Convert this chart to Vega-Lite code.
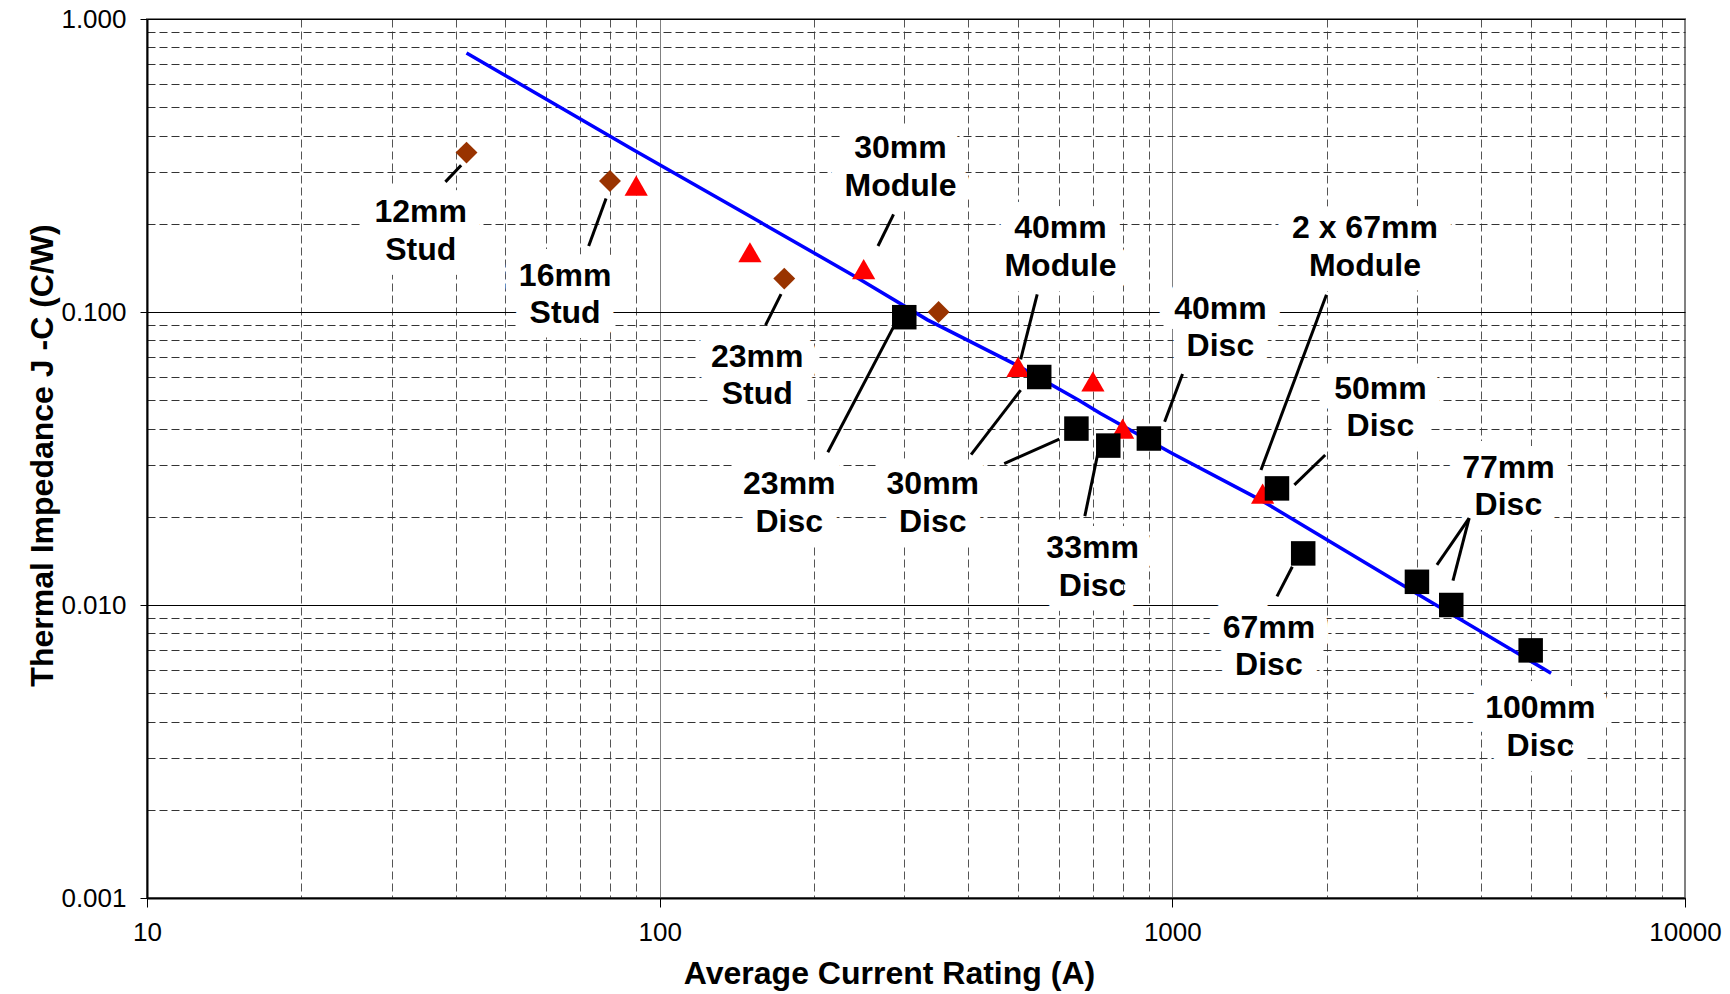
{
  "$schema": "https://vega.github.io/schema/vega-lite/v6.json",
  "width": 1538,
  "height": 879,
  "autosize": {"type": "none"},
  "padding": {"left": 147, "top": 19, "right": 45, "bottom": 96},
  "background": "white",
  "config": {
    "view": {"stroke": "#808080", "strokeWidth": 2},
    "font": "Liberation Sans, Arial, sans-serif"
  },
  "datasets": {
    "trend": [
      {"x": 42, "y": 0.766}, {"x": 89, "y": 0.357}, {"x": 148, "y": 0.215},
      {"x": 241, "y": 0.132}, {"x": 333, "y": 0.094}, {"x": 496, "y": 0.066},
      {"x": 657, "y": 0.05}, {"x": 723, "y": 0.0451}, {"x": 1000, "y": 0.0329},
      {"x": 1488, "y": 0.0228}, {"x": 3064, "y": 0.0107}, {"x": 5480, "y": 0.00585}
    ],
    "devices": [
      {"x": 42, "y": 0.35, "type": "Stud"},
      {"x": 80, "y": 0.28, "type": "Stud"},
      {"x": 175, "y": 0.13, "type": "Stud"},
      {"x": 350, "y": 0.1, "type": "Stud"},
      {"x": 90, "y": 0.27, "type": "Module"},
      {"x": 150, "y": 0.16, "type": "Module"},
      {"x": 250, "y": 0.14, "type": "Module"},
      {"x": 500, "y": 0.065, "type": "Module"},
      {"x": 700, "y": 0.058, "type": "Module"},
      {"x": 800, "y": 0.04, "type": "Module"},
      {"x": 1500, "y": 0.024, "type": "Module"},
      {"x": 300, "y": 0.096, "type": "Disc"},
      {"x": 550, "y": 0.06, "type": "Disc"},
      {"x": 650, "y": 0.04, "type": "Disc"},
      {"x": 750, "y": 0.035, "type": "Disc"},
      {"x": 900, "y": 0.037, "type": "Disc"},
      {"x": 1600, "y": 0.025, "type": "Disc"},
      {"x": 1800, "y": 0.015, "type": "Disc"},
      {"x": 3000, "y": 0.012, "type": "Disc"},
      {"x": 3500, "y": 0.01, "type": "Disc"},
      {"x": 5000, "y": 0.007, "type": "Disc"}
    ],
    "labels": [
      {"x": 34.2, "y": 0.189, "label": "12mm\nStud"},
      {"x": 65.4, "y": 0.1146, "label": "16mm\nStud"},
      {"x": 295, "y": 0.313, "label": "30mm\nModule"},
      {"x": 155, "y": 0.0608, "label": "23mm\nStud"},
      {"x": 605, "y": 0.1664, "label": "40mm\nModule"},
      {"x": 2375, "y": 0.1664, "label": "2 x 67mm\nModule"},
      {"x": 1241, "y": 0.0884, "label": "40mm\nDisc"},
      {"x": 2546, "y": 0.0473, "label": "50mm\nDisc"},
      {"x": 179, "y": 0.0223, "label": "23mm\nDisc"},
      {"x": 341, "y": 0.0223, "label": "30mm\nDisc"},
      {"x": 699, "y": 0.01347, "label": "33mm\nDisc"},
      {"x": 4524, "y": 0.02536, "label": "77mm\nDisc"},
      {"x": 1543, "y": 0.00722, "label": "67mm\nDisc"},
      {"x": 5223, "y": 0.003834, "label": "100mm\nDisc"}
    ],
    "leaders": [
      {"x": 38.2, "y": 0.278, "x2": 41.0, "y2": 0.317},
      {"x": 72.7, "y": 0.168, "x2": 78.6, "y2": 0.244},
      {"x": 160.9, "y": 0.0902, "x2": 172.5, "y2": 0.1151},
      {"x": 266.6, "y": 0.168, "x2": 285.9, "y2": 0.2153},
      {"x": 212.8, "y": 0.0332, "x2": 285.9, "y2": 0.089},
      {"x": 545, "y": 0.1148, "x2": 506, "y2": 0.0689},
      {"x": 405, "y": 0.0326, "x2": 506, "y2": 0.0541},
      {"x": 470, "y": 0.0304, "x2": 602, "y2": 0.0368},
      {"x": 675, "y": 0.0201, "x2": 720, "y2": 0.0347},
      {"x": 1047, "y": 0.0614, "x2": 966, "y2": 0.0422},
      {"x": 1998, "y": 0.1146, "x2": 1489, "y2": 0.0289},
      {"x": 1987, "y": 0.0325, "x2": 1730, "y2": 0.0257},
      {"x": 1714, "y": 0.0135, "x2": 1600, "y2": 0.0107},
      {"x": 3793, "y": 0.0198, "x2": 3282, "y2": 0.0137},
      {"x": 3793, "y": 0.0198, "x2": 3527, "y2": 0.0121}
    ]
  },
  "encoding": {
    "x": {
      "field": "x",
      "type": "quantitative",
      "scale": {"type": "log", "domain": [10, 10000], "nice": false, "zero": false},
      "axis": {
        "values": [10,20,30,40,50,60,70,80,90,100,200,300,400,500,600,700,800,900,1000,2000,3000,4000,5000,6000,7000,8000,9000,10000],
        "format": "d",
        "labelExpr": "(datum.value==10||datum.value==100||datum.value==1000||datum.value==10000) ? datum.label : ''",
        "labelFontSize": 26,
        "labelColor": "black",
        "labelPadding": 12,
        "labelOverlap": false,
        "labelFlush": false,
        "labelBound": false,
        "tickSize": {"condition": {"test": "datum.value==10||datum.value==100||datum.value==1000||datum.value==10000", "value": 9}, "value": 0},
        "tickColor": "black",
        "domainColor": "black",
        "domainWidth": 2,
        "grid": true,
        "gridColor": {"condition": {"test": "datum.value==10||datum.value==100||datum.value==1000||datum.value==10000", "value": "#808080"}, "value": "#555555"},
        "gridDash": {"condition": {"test": "datum.value==10||datum.value==100||datum.value==1000||datum.value==10000", "value": []}, "value": [8, 4]},
        "gridWidth": 1,
        "title": "Average Current Rating (A)",
        "titleFontSize": 32,
        "titleFontWeight": "bold",
        "titleColor": "black",
        "titleX": 742,
        "titleY": 85,
        "titleBaseline": "alphabetic",
        "titleAlign": "center"
      }
    },
    "y": {
      "field": "y",
      "type": "quantitative",
      "scale": {"type": "log", "domain": [0.001, 1], "nice": false, "zero": false},
      "axis": {
        "values": [0.001,0.002,0.003,0.004,0.005,0.006,0.007,0.008,0.009,0.01,0.02,0.03,0.04,0.05,0.06,0.07,0.08,0.09,0.1,0.2,0.3,0.4,0.5,0.6,0.7,0.8,0.9,1],
        "format": ".3f",
        "labelExpr": "(datum.value==0.001||datum.value==0.01||datum.value==0.1||datum.value==1) ? datum.label : ''",
        "labelFontSize": 26,
        "labelColor": "black",
        "labelPadding": 14,
        "labelOverlap": false,
        "labelFlush": false,
        "labelBound": false,
        "tickSize": {"condition": {"test": "datum.value==0.001||datum.value==0.01||datum.value==0.1||datum.value==1", "value": 7}, "value": 0},
        "tickColor": "black",
        "domainColor": "black",
        "domainWidth": 2,
        "grid": true,
        "gridColor": {"condition": {"test": "datum.value==0.001||datum.value==0.01||datum.value==0.1||datum.value==1", "value": "#000000"}, "value": "#333333"},
        "gridDash": {"condition": {"test": "datum.value==0.001||datum.value==0.01||datum.value==0.1||datum.value==1", "value": []}, "value": [8, 4]},
        "gridWidth": 1,
        "title": "Thermal Impedance J -C (C/W)",
        "titleFontSize": 32,
        "titleFontWeight": "bold",
        "titleColor": "black",
        "titleAngle": 270,
        "titleX": -95,
        "titleY": 436,
        "titleBaseline": "alphabetic",
        "titleAlign": "center"
      }
    }
  },
  "layer": [
    {
      "data": {"name": "labels"},
      "mark": {"type": "text", "lineBreak": "\n", "fontSize": 32, "fontWeight": "bold", "lineHeight": 37.5, "baseline": "middle", "align": "center", "dy": -18.75, "fill": "white", "stroke": "white", "strokeWidth": 30, "strokeJoin": "round"},
      "encoding": {"text": {"field": "label"}}
    },
    {
      "data": {"name": "leaders"},
      "mark": {"type": "rule", "color": "black", "strokeWidth": 3},
      "encoding": {"x2": {"field": "x2"}, "y2": {"field": "y2"}}
    },
    {
      "data": {"name": "trend"},
      "mark": {"type": "line", "color": "#0000FF", "strokeWidth": 3.5},
      "encoding": {}
    },
    {
      "data": {"name": "devices"},
      "mark": {"type": "point", "filled": true, "opacity": 1},
      "encoding": {
        "shape": {"field": "type", "type": "nominal", "scale": {"domain": ["Stud", "Module", "Disc"], "range": ["diamond", "triangle-up", "square"]}, "legend": null},
        "color": {"field": "type", "type": "nominal", "scale": {"domain": ["Stud", "Module", "Disc"], "range": ["#993300", "#FF0000", "#000000"]}, "legend": null},
        "size": {"field": "type", "type": "nominal", "scale": {"domain": ["Stud", "Module", "Disc"], "range": [480, 600, 300]}, "legend": null}
      }
    },
    {
      "data": {"name": "labels"},
      "mark": {"type": "text", "lineBreak": "\n", "fontSize": 32, "fontWeight": "bold", "lineHeight": 37.5, "baseline": "middle", "align": "center", "dy": -18.75, "color": "black"},
      "encoding": {"text": {"field": "label"}}
    }
  ]
}
